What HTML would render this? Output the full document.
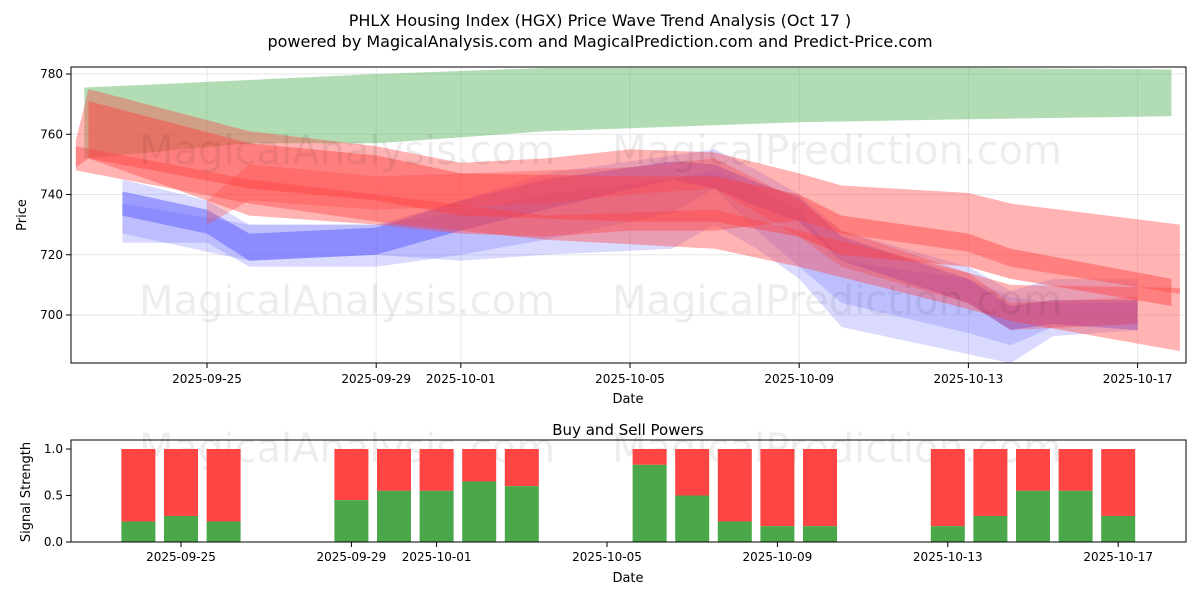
<!DOCTYPE html>
<html><head><meta charset="utf-8"><style>
body{margin:0;background:#fff;font-family:"Liberation Sans","DejaVu Sans",sans-serif}
svg text{font-family:"DejaVu Sans","Liberation Sans",sans-serif}
</style></head><body>
<svg id="c" width="1200" height="600" xmlns="http://www.w3.org/2000/svg"></svg>
<script>
// ---- data ----
const tickDates=["2025-09-25","2025-09-29","2025-10-01","2025-10-05","2025-10-09","2025-10-13","2025-10-17"];
const priceTicks=[700,720,740,760,780];
const greenDays=[-2.9,1,4,8,10,14,18,22.8];
const greenHi=[775.5,778,780,782,782,782,782,781.5];
const greenLo=[752,757,757,761,762,764,765,766];
const redADays=[-3.1,-2.8,1,4,6,8,10,12,14,15,18,19,23];
const redAHi=[758,775,761,756,750.5,752,755,754,747,743,740.5,737,730];
const redALo=[749,752,733,730,727,726,728,728,731.5,727,721,716,707];
const redBDays=[-2.8,1,4,6,10,12,14,15,18,19,22.8];
const redBHi=[771,757,753,747,746,746,740,733,727,722,712];
const redBLo=[752,742,738,733,731,731,726,720,716,712,703];
const redCDays=[-3.1,1,4,8,12,14,18,19,23];
const redCHi=[756,745,740,733,735,728,714,710,709];
const redCLo=[748,737,731,725,722,716,702,698,688];
const redDDays=[0,1,4,8,10,12,13,14,15,18,19,22];
const redDHi=[738,750,746,748,749,752,745,738,728,714,704,706];
const redDLo=[730,738,735,737,740,742,734,726,716,704,695,697];
const blue1Days=[-2,0,1,4,6,8,11,12,13,14,15,18,19,20,22];
const blue1Hi=[741,735,727,729,738,745,751,750,744,739,726,712,703,705,705];
const blue1Lo=[733,727,718,720,728,735,745,742,736,731,718,704,695,697,695];
const blue2Days=[-2,0,1,4,6,8,11,12,13,14,15,18,19,20,22];
const blue2Hi=[745,738,730,730,738,747,753,755,748,740,728,716,708,712,712];
const blue2Lo=[724,724,716,716,720,725,734,742,728,716,704,694,690,696,697];
const blue3Days=[-2,1,4,6,8,11,12,13,14,15,18,19,20,22];
const blue3Hi=[737,730,730,734,740,745,748,742,735,718,712,706,704,704];
const blue3Lo=[727,718,720,718,720,722,730,722,712,696,687,684,693,695];
const barDays=[-1,0,1,4,5,6,7,8,11,12,13,14,15,18,19,20,21,22];
const buyVals=[0.22,0.28,0.22,0.45,0.55,0.55,0.65,0.6,0.83,0.5,0.22,0.17,0.17,0.17,0.28,0.55,0.55,0.28];
const sigTicks=[0,0.5,1];

const NS="http://www.w3.org/2000/svg";
const svg=document.getElementById('c');
function mk(t,a,p){const e=document.createElementNS(NS,t);for(const k in a)e.setAttribute(k,a[k]);(p||svg).appendChild(e);return e;}
const X=d=>207+42.3*d;
const X2=d=>181+42.6*d;
const Y=v=>74+(780-v)*3.0125;
const Y2=v=>542-v*93;
const dayOf=s=>Math.round((new Date(s)-new Date("2025-09-25"))/864e5);

let t=mk('text',{x:600,y:26,'text-anchor':'middle','font-size':16});t.textContent="PHLX Housing Index (HGX) Price Wave Trend Analysis (Oct 17 )";


t=mk('text',{x:600,y:47,'text-anchor':'middle','font-size':16});t.textContent="powered by MagicalAnalysis.com and MagicalPrediction.com and Predict-Price.com";



const topG=mk('g',{});


mk('defs',{}).innerHTML='<clipPath id="cp"><rect x="71" y="67" width="1115" height="296"/></clipPath>';
mk('rect',{x:71,y:67,width:1115,height:296,fill:'#fff'},topG);
tickDates.forEach(s=>{mk('line',{x1:X(dayOf(s)),x2:X(dayOf(s)),y1:67,y2:363,stroke:'#e6e6e6'},topG);});
priceTicks.forEach(v=>{mk('line',{x1:71,x2:1186,y1:Y(v),y2:Y(v),stroke:'#e6e6e6'},topG);});
const bandG=mk('g',{'clip-path':'url(#cp)'},topG);
function band(days,hi,lo,fill,op,name){
  let pts=days.map((d,i)=>X(d)+','+Y(hi[i]));
  pts=pts.concat(days.map((d,i)=>X(d)+','+Y(lo[i])).reverse());
  const p=mk('polygon',{points:pts.join(' '),fill:fill,'fill-opacity':op},bandG);
  
  
}
band(greenDays,greenHi,greenLo,'#4caf50',0.43,'green-band');
band(blue3Days,blue3Hi,blue3Lo,'#6a6aff',0.25,'blue-band-3');
band(blue2Days,blue2Hi,blue2Lo,'#6a6aff',0.25,'blue-band-2');
band(blue1Days,blue1Hi,blue1Lo,'#5050ff',0.45,'blue-band-1');
band(redADays,redAHi,redALo,'#ff4040',0.4,'red-band-a');
band(redDDays,redDHi,redDLo,'#ff4040',0.3,'red-band-d');
band(redCDays,redCHi,redCLo,'#ff4040',0.4,'red-band-c');
band(redBDays,redBHi,redBLo,'#ff4040',0.45,'red-band-b');
[[347,150,"MagicalAnalysis.com"],[837,150,"MagicalPrediction.com"],[347,300,"MagicalAnalysis.com"],[837,300,"MagicalPrediction.com"],[347,448,"MagicalAnalysis.com"],[837,448,"MagicalPrediction.com"]].forEach(w=>{
  const e=mk('text',{x:w[0],y:w[1]+14,'text-anchor':'middle','font-size':40,fill:'#000','fill-opacity':0.07});e.textContent=w[2];
  
  
});
mk('rect',{x:71,y:67,width:1115,height:296,fill:'none',stroke:'#000'},topG);
priceTicks.forEach(v=>{mk('line',{x1:66,x2:71,y1:Y(v),y2:Y(v),stroke:'#000'},topG);
  const e=mk('text',{x:63,y:Y(v)+4,'text-anchor':'end','font-size':12},topG);e.textContent=v;});
tickDates.forEach(s=>{const x=X(dayOf(s));mk('line',{x1:x,x2:x,y1:363,y2:368,stroke:'#000'},topG);
  const e=mk('text',{x:x,y:383,'text-anchor':'middle','font-size':12},topG);e.textContent=s;});
t=mk('text',{x:628,y:403,'text-anchor':'middle','font-size':13});t.textContent="Date";


t=mk('text',{x:26,y:215,'text-anchor':'middle','font-size':13,transform:'rotate(-90 26 215)'});t.textContent="Price";



const bot=mk('g',{});


t=mk('text',{x:628,y:435,'text-anchor':'middle','font-size':15});t.textContent="Buy and Sell Powers";


barDays.forEach((d,i)=>{
  const x=X2(d)-17;
  const r=mk('rect',{x:x,y:Y2(1),width:34,height:Y2(buyVals[i])-Y2(1),fill:'#ff4444'},bot);
  
  
  const g=mk('rect',{x:x,y:Y2(buyVals[i]),width:34,height:Y2(0)-Y2(buyVals[i]),fill:'#4aa84a'},bot);
  
  
});
mk('rect',{x:71,y:440,width:1115,height:102,fill:'none',stroke:'#000'},bot);
sigTicks.forEach(v=>{mk('line',{x1:66,x2:71,y1:Y2(v),y2:Y2(v),stroke:'#000'},bot);
  const e=mk('text',{x:63,y:Y2(v)+4,'text-anchor':'end','font-size':12},bot);e.textContent=v.toFixed(1);});
tickDates.forEach(s=>{const x=X2(dayOf(s));mk('line',{x1:x,x2:x,y1:542,y2:547,stroke:'#000'},bot);
  const e=mk('text',{x:x,y:561,'text-anchor':'middle','font-size':12},bot);e.textContent=s;});
t=mk('text',{x:628,y:582,'text-anchor':'middle','font-size':13});t.textContent="Date";


t=mk('text',{x:30,y:492,'text-anchor':'middle','font-size':13,transform:'rotate(-90 30 492)'});t.textContent="Signal Strength";


</script>
</body></html>
